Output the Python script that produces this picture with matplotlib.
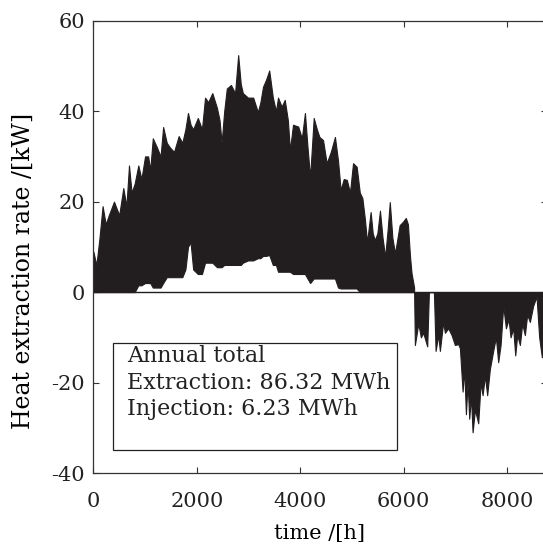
import matplotlib
matplotlib.use("Agg")
import matplotlib.pyplot as plt
from matplotlib.patches import Rectangle

# heat extraction (>0): upper / lower envelope, [h] and [kW]
t_pos = [0, 60, 120, 180, 240, 300, 400, 500, 580, 640, 690, 740, 800, 870, 930,
         1000, 1060, 1100, 1150, 1230, 1300, 1350, 1420, 1480, 1560, 1650, 1720,
         1780, 1830, 1880, 1930, 2020, 2100, 2160, 2220, 2300, 2390, 2440, 2480,
         2530, 2580, 2660, 2740, 2800, 2850, 2890, 2990, 3090, 3180, 3230, 3280,
         3340, 3400, 3470, 3530, 3570, 3640, 3700, 3760, 3800, 3860, 3960, 4030,
         4090, 4140, 4190, 4260, 4320, 4370, 4440, 4510, 4590, 4670, 4730, 4780,
         4840, 4900, 4960, 5020, 5090, 5150, 5200, 5250, 5290, 5360, 5400, 5440,
         5490, 5540, 5590, 5640, 5690, 5730, 5780, 5830, 5880, 5920, 5980, 6040,
         6080, 6120, 6150, 6200]
upper_pos = [9, 6, 12, 19, 15, 17, 20, 17, 23, 19, 28, 22, 24, 28, 25,
             30, 30, 27, 34, 32, 30, 36.5, 33, 32, 31, 34.5, 33,
             36, 39.6, 37, 36, 38.5, 36, 43, 42, 44, 40.7, 38, 33,
             40, 45, 45.8, 44, 52.4, 46, 44, 43, 43, 39.8, 42, 45.4,
             47, 49, 43, 40, 43, 41, 42.5, 38, 31.4, 37, 36.6, 34,
             39.6, 32, 25.4, 38.5, 36, 34.3, 33.6, 28.5, 31, 34.3, 29, 22.6,
             25, 24.8, 22, 28.5, 27.7, 22, 20.8, 16, 11, 17.7, 13, 11.5,
             13, 18, 12, 7.8, 14, 19.9, 12, 8.6, 12, 14.8, 15.5, 16.4,
             15, 8, 4.2, 1]
lower_pos = [0, 0, 0, 0, 0, 0, 0, 0, 0, 0, 0, 0, 0, 1.5, 1.5,
             2, 2, 2, 1, 1, 1, 2, 3.3, 3.3, 3.3, 3.3, 3.3,
             5, 10, 11, 5, 4, 4, 6.5, 6.5, 6.5, 5.5, 5.5, 5.5,
             6, 6, 6, 6, 6, 6, 6.5, 7, 7, 7.5, 7.5, 8,
             8, 8.2, 6, 6, 4.5, 4.5, 4.5, 4.5, 4.5, 4, 4, 4,
             4, 3, 2, 3, 3, 3, 3, 3, 3, 3, 1, 0.8,
             0.8, 0.8, 0.8, 0.8, 0.8, 0, 0, 0, 0, 0, 0, 0,
             0, 0, 0, 0, 0, 0, 0, 0, 0, 0, 0, 0,
             0, 0, 0, 0]

# heat injection (<0): lower envelope of the spikes
t_neg = [6200, 6215, 6280, 6331, 6376, 6453, 6486, 6583, 6615, 6666, 6698,
         6762, 6795, 6859, 6924, 6988, 7052, 7085, 7137, 7169, 7201, 7234,
         7265, 7298, 7330, 7375, 7439, 7485, 7523, 7568, 7612, 7664, 7728,
         7780, 7825, 7871, 7922, 7974, 8025, 8064, 8115, 8154, 8192, 8244,
         8289, 8340, 8385, 8437, 8501, 8566, 8617, 8669, 8760]
lower_neg = [0, -11.7, -7, -10, -9, -12, 0, 0, -13, -9.5, -13,
             -6.6, -9, -8, -9.5, -11.7, -11.5, -12.4, -22, -17, -27, -20,
             -28, -23, -31, -26, -29, -20, -22.8, -18.5, -22.8, -17, -13,
             -10, -15.5, -11.7, -3, -8, -6, -10, -8, -14, -9.5, -11.7,
             -7, -9.5, -5, -6.6, -3, -1, -10, -14.4, -14]

x_ticks = [0, 2000, 4000, 6000, 8000]
y_ticks = [-40, -20, 0, 20, 40, 60]
box_lines = ["Annual total", "Extraction: 86.32 MWh", "Injection: 6.23 MWh"]

plt.rcParams["font.family"] = "DejaVu Serif"
plt.rcParams["font.size"] = 15
plt.rcParams["axes.unicode_minus"] = False

fig = plt.figure(figsize=(5.43, 5.44), dpi=100)
ax = fig.add_axes([0.1718, 0.1305, 0.8348, 0.8314])

ink = "#221e1f"
ax.fill_between(t_pos, lower_pos, upper_pos, color=ink, linewidth=0.8, edgecolor=ink)
ax.fill_between(t_neg, lower_neg, 0, color=ink, linewidth=0.8, edgecolor=ink)
ax.plot([0, 8760], [0, 0], color=ink, linewidth=1.0)

ax.set_xlim(0, 8760)
ax.set_ylim(-40, 60)
ax.set_xticks(x_ticks)
ax.set_yticks(y_ticks)
ax.tick_params(direction="in", length=4, width=0.8, top=True, right=True,
               colors="#333333", labelcolor="#222222", pad=6)
ax.tick_params(axis="x", pad=14)
for s in ax.spines.values():
    s.set_linewidth(0.9)
    s.set_color("#333333")

ax.set_xlabel("time /[h]", labelpad=9)
ax.set_ylabel("Heat extraction rate /[kW]", fontsize=17)
ax.yaxis.set_label_coords(-0.128, 0.447)

# annual total box
ax.add_patch(Rectangle((0.0435, 0.0509), 0.6265, 0.2367, transform=ax.transAxes,
                       facecolor="white", edgecolor="#222222", linewidth=0.9, zorder=3))
for txt, yy in zip(box_lines, [0.2588, 0.199, 0.1416]):
    ax.text(0.0743, yy, txt, transform=ax.transAxes, va="center", ha="left",
            fontsize=16, color="#222222", zorder=4)

fig.savefig("out.png", dpi=100)
